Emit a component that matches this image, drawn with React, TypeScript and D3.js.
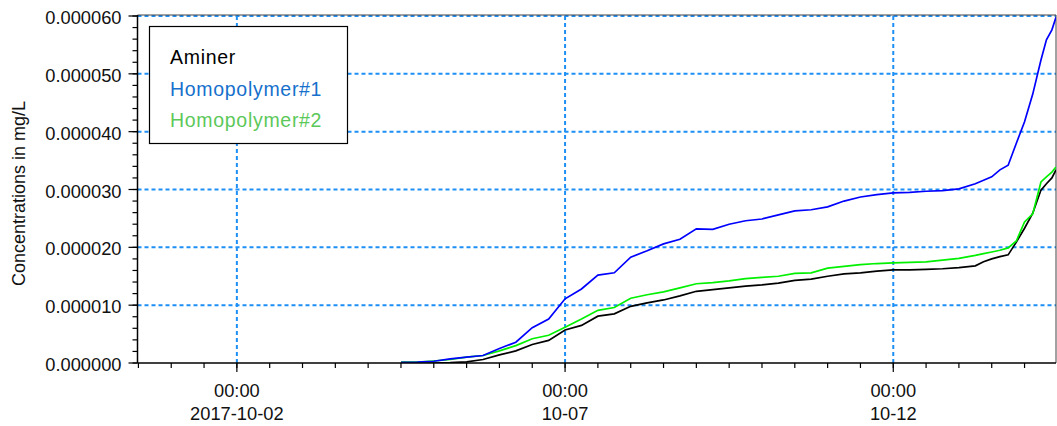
import React from "react";
import * as d3 from "d3";

const times: string[] = [
  "2017-10-04 12:00", "2017-10-04 18:00", "2017-10-05 00:00", "2017-10-05 06:00",
  "2017-10-05 12:00", "2017-10-05 18:00", "2017-10-06 00:00", "2017-10-06 06:00",
  "2017-10-06 12:00", "2017-10-06 18:00", "2017-10-07 00:00", "2017-10-07 06:00",
  "2017-10-07 12:00", "2017-10-07 18:00", "2017-10-08 00:00", "2017-10-08 06:00",
  "2017-10-08 12:00", "2017-10-08 18:00", "2017-10-09 00:00", "2017-10-09 06:00",
  "2017-10-09 12:00", "2017-10-09 18:00", "2017-10-10 00:00", "2017-10-10 06:00",
  "2017-10-10 12:00", "2017-10-10 18:00", "2017-10-11 00:00", "2017-10-11 06:00",
  "2017-10-11 12:00", "2017-10-11 18:00", "2017-10-12 00:00", "2017-10-12 06:00",
  "2017-10-12 12:00", "2017-10-12 18:00", "2017-10-13 00:00", "2017-10-13 06:00",
  "2017-10-13 09:00", "2017-10-13 12:00", "2017-10-13 15:00", "2017-10-13 18:00",
  "2017-10-13 21:00", "2017-10-14 00:00", "2017-10-14 03:00", "2017-10-14 06:00",
  "2017-10-14 08:00", "2017-10-14 10:00", "2017-10-14 11:30",
];

// values in units of 1e-6 mg/L
const homopolymer1: number[] = [
  0.1, 0.15, 0.3, 0.7, 1.0, 1.3, 2.5, 3.6, 6.1, 7.6,
  11.1, 12.8, 15.2, 15.6, 18.3, 19.4, 20.6, 21.4, 23.2, 23.1,
  24.0, 24.6, 24.9, 25.6, 26.3, 26.5, 27.0, 28.0, 28.7, 29.1,
  29.4, 29.5, 29.7, 29.8, 30.1, 31.0, 31.6, 32.2, 33.4, 34.2,
  38.0, 41.7, 46.5, 52.4, 55.9, 57.6, 59.8,
];

const homopolymer2: number[] = [
  0.15, 0.15, 0.35, 0.6, 1.0, 1.3, 2.1, 3.0, 4.2, 4.8,
  6.2, 7.6, 9.1, 9.6, 11.2, 11.8, 12.3, 13.0, 13.7, 13.9,
  14.2, 14.6, 14.8, 15.0, 15.5, 15.6, 16.4, 16.7, 17.0, 17.2,
  17.3, 17.4, 17.5, 17.8, 18.1, 18.6, 18.9, 19.2, 19.5, 19.9,
  21.1, 24.4, 25.8, 31.3, 32.2, 33.0, 33.9,
];

const aminer: number[] = [
  0.0, 0.0, 0.0, 0.05, 0.2, 0.6, 1.4, 2.1, 3.2, 3.9,
  5.7, 6.5, 8.1, 8.5, 9.8, 10.4, 10.9, 11.6, 12.4, 12.7,
  13.0, 13.3, 13.5, 13.8, 14.3, 14.5, 15.0, 15.4, 15.6, 15.9,
  16.1, 16.1, 16.2, 16.3, 16.5, 16.8, 17.5, 18.0, 18.4, 18.7,
  20.9, 23.3, 25.9, 29.9, 31.0, 32.0, 33.4,
];

const yTickValues: number[] = [0, 0.00001, 0.00002, 0.00003, 0.00004, 0.00005, 0.00006];
const xMajorTicks: string[] = ["2017-10-02 00:00", "2017-10-07 00:00", "2017-10-12 00:00"];
const xMajorLabels: string[][] = [["00:00", "2017-10-02"], ["00:00", "10-07"], ["00:00", "10-12"]];

const legendNames: string[] = ["Aminer", "Homopolymer#1", "Homopolymer#2"];
const legendTextColors: string[] = ["#000000", "#1670cc", "#5cc85a"];

const parse = d3.timeParse("%Y-%m-%d %H:%M");

export default function App() {
  const W = 1057, H = 426;
  const left = 137.5, right = 1056, top = 16, bottom = 363;
  const x = d3
    .scaleTime()
    .domain([new Date(2017, 8, 30, 11, 40), new Date(2017, 9, 14, 11, 30)])
    .range([left, right]);
  const y = d3.scaleLinear().domain([0, 0.00006]).range([bottom, top]);

  const dates = times.map((t) => parse(t) as Date);
  const series = [
    { name: "Aminer", vals: aminer, color: "#000000" },
    { name: "Homopolymer#2", vals: homopolymer2, color: "#00f000" },
    { name: "Homopolymer#1", vals: homopolymer1, color: "#0000ff" },
  ];
  const line = d3
    .line<[Date, number]>()
    .x((d) => x(d[0]))
    .y((d) => y(d[1] * 1e-6))
    .curve(d3.curveLinear);

  const minorY = d3.range(0, 0.0000601, 0.000002);
  const [d0, d1] = x.domain();
  const minorX = d3.timeHour.every(12)!.range(d0, d1);
  const majorX = xMajorTicks.map((t) => parse(t) as Date);

  const font = "'Liberation Sans', Arial, sans-serif";
  const gridColor = "#1e8ff5";

  return (
    <svg
      width={W}
      height={H}
      style={{ position: "absolute", left: 0, top: 0, background: "#fff" }}
      fontFamily={font}
    >
      <defs>
        <clipPath id="plotclip">
          <rect x={left} y={top - 2} width={right - left} height={bottom - top + 2} />
        </clipPath>
      </defs>
      {/* grid */}
      {yTickValues.slice(1).map((v) => (
        <line
          key={"gy" + v}
          x1={left}
          x2={right}
          y1={y(v)}
          y2={y(v)}
          stroke={gridColor}
          strokeWidth={2}
          strokeDasharray="4,3"
        />
      ))}
      {majorX.map((d, i) => (
        <line
          key={"gx" + i}
          x1={x(d)}
          x2={x(d)}
          y1={top}
          y2={bottom}
          stroke={gridColor}
          strokeWidth={2}
          strokeDasharray="4,3"
        />
      ))}
      {/* frame top/right */}
      <line x1={left} x2={right} y1={top - 1} y2={top - 1} stroke="#444" strokeWidth={1} />
      <line x1={right} x2={right} y1={top - 1} y2={bottom} stroke="#444" strokeWidth={1} />

      {/* series */}
      <g clipPath="url(#plotclip)">
        {series.map((s) => (
          <path
            key={s.name}
            d={line(dates.map((d, i) => [d, s.vals[i]] as [Date, number])) || ""}
            fill="none"
            stroke={s.color}
            strokeWidth={1.7}
          />
        ))}
      </g>

      {/* axes */}
      <line x1={left} x2={left} y1={top - 1} y2={bottom} stroke="#000" strokeWidth={1.5} />
      <line x1={left} x2={right} y1={bottom} y2={bottom} stroke="#000" strokeWidth={1.5} />
      {minorY.map((v, i) => (
        <line key={"my" + i} x1={left - 5} x2={left} y1={y(v)} y2={y(v)} stroke="#000" strokeWidth={1.2} />
      ))}
      {yTickValues.map((v) => (
        <g key={"ty" + v}>
          <line x1={left - 9} x2={left} y1={y(v)} y2={y(v)} stroke="#000" strokeWidth={1.2} />
          <text x={left - 16} y={y(v) + 8} textAnchor="end" fontSize={18.3} fill="#111">
            {d3.format(".6f")(v)}
          </text>
        </g>
      ))}
      {minorX.map((d, i) => (
        <line key={"mx" + i} x1={x(d)} x2={x(d)} y1={bottom} y2={bottom + 5} stroke="#000" strokeWidth={1.2} />
      ))}
      {majorX.map((d, i) => (
        <g key={"tx" + i}>
          <line x1={x(d)} x2={x(d)} y1={bottom} y2={bottom + 9} stroke="#000" strokeWidth={1.2} />
          <text x={x(d)} y={397} textAnchor="middle" fontSize={18.3} fill="#111">
            {xMajorLabels[i][0]}
          </text>
          <text x={x(d)} y={420} textAnchor="middle" fontSize={18.3} fill="#111">
            {xMajorLabels[i][1]}
          </text>
        </g>
      ))}
      <text
        transform={`translate(25,${(top + bottom) / 2 + 4}) rotate(-90)`}
        textAnchor="middle"
        fontSize={18}
        fill="#111"
      >
        Concentrations in mg/L
      </text>

      {/* legend */}
      <rect x={149.5} y={26.5} width={198} height={117} fill="#fff" stroke="#000" strokeWidth={1.2} />
      {legendNames.map((n, i) => (
        <text key={n} x={170} y={64 + i * 31.5} fontSize={19.5} letterSpacing={0.7} fill={legendTextColors[i]}>
          {n}
        </text>
      ))}
    </svg>
  );
}
